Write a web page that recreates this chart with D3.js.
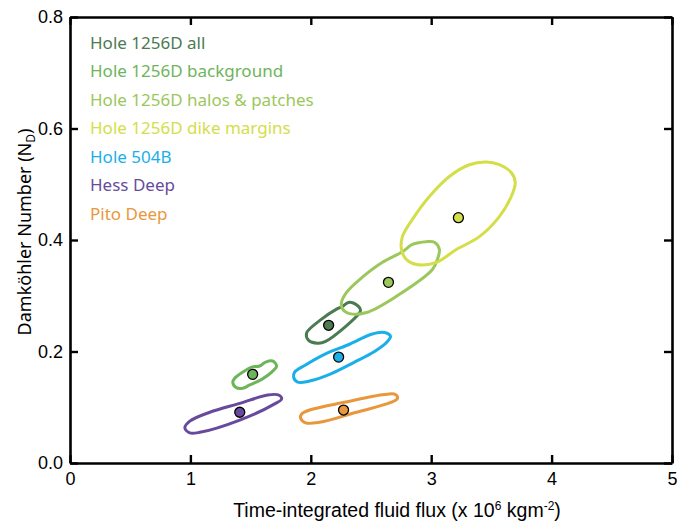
<!DOCTYPE html>
<html>
<head>
<meta charset="utf-8">
<script src="https://cdn.jsdelivr.net/npm/d3@7"></script>
<style>
  body { margin: 0; background: #fff; }
  .tick text { font-family: "Liberation Sans", Arial, sans-serif; font-size: 18px; fill: #000; }
</style>
</head>
<body>
<div id="chart"></div>
<script>
var chart_width  = 689;
var chart_height = 521;
var margin = {left: 70, right: 17, top: 17, bottom: 58};

// legend / series names
var names = [
    'Hole 1256D all',
    'Hole 1256D background',
    'Hole 1256D halos & patches',
    'Hole 1256D dike margins',
    'Hole 504B',
    'Hess Deep',
    'Pito Deep'
];

// mean values [flux, Nd]
var means = [
    [2.148, 0.247],
    [1.517, 0.159],
    [2.645, 0.324],
    [3.226, 0.440],
    [2.231, 0.190],
    [1.410, 0.091],
    [2.272, 0.095]
];

// contour outlines, [flux, Nd]
var allContour = [
    [1.965, 0.233], [1.982, 0.220], [2.056, 0.215], [2.123, 0.218], [2.388, 0.265],
    [2.413, 0.274], [2.371, 0.285], [2.313, 0.288], [2.264, 0.281], [2.214, 0.276],
    [2.090, 0.258]
];
var backgroundContour = [
    [1.352, 0.145], [1.376, 0.136], [1.434, 0.134], [1.493, 0.140], [1.592, 0.150],
    [1.675, 0.163], [1.716, 0.174], [1.683, 0.183], [1.625, 0.181], [1.575, 0.174],
    [1.509, 0.172], [1.434, 0.163], [1.368, 0.152]
];
var halosContour = [
    [2.264, 0.276], [2.322, 0.268], [2.463, 0.270], [2.711, 0.299], [3.010, 0.347],
    [3.051, 0.365], [3.068, 0.383], [3.027, 0.396], [2.960, 0.397], [2.844, 0.392],
    [2.761, 0.379], [2.595, 0.360], [2.405, 0.329], [2.297, 0.306], [2.255, 0.288]
];
var dikeContour = [
    [2.753, 0.383], [2.794, 0.365], [2.877, 0.356], [3.043, 0.360], [3.209, 0.383],
    [3.400, 0.406], [3.566, 0.442], [3.665, 0.478], [3.698, 0.503], [3.665, 0.521],
    [3.566, 0.535], [3.458, 0.540], [3.317, 0.535], [3.151, 0.514], [2.985, 0.478],
    [2.844, 0.437], [2.761, 0.406]
];
var hole504Contour = [
    [1.857, 0.154], [1.891, 0.145], [1.990, 0.147], [2.156, 0.159], [2.363, 0.181],
    [2.529, 0.200], [2.637, 0.218], [2.662, 0.227], [2.612, 0.234], [2.504, 0.231],
    [2.322, 0.213], [2.114, 0.195], [1.949, 0.175], [1.866, 0.163]
];
var hessContour = [
    [0.954, 0.063], [0.995, 0.054], [1.078, 0.055], [1.410, 0.077], [1.700, 0.106],
    [1.758, 0.115], [1.733, 0.122], [1.642, 0.122], [1.410, 0.107], [1.161, 0.091],
    [0.995, 0.075]
];
var pitoContour = [
    [1.915, 0.081], [1.957, 0.072], [2.073, 0.073], [2.380, 0.091], [2.670, 0.109],
    [2.720, 0.116], [2.703, 0.123], [2.612, 0.123], [2.280, 0.109], [1.990, 0.095],
    [1.924, 0.088]
];

var x_ticks = [0, 1, 2, 3, 4, 5];
var y_ticks = [0, 0.2, 0.4, 0.6, 0.8];

var contours = [allContour, backgroundContour, halosContour, dikeContour,
                hole504Contour, hessContour, pitoContour];
var colors = ['#4b7b50', '#6db55a', '#9cc75b', '#d4de48', '#1aafe8', '#684a9c', '#e8973c'];

var svg = d3.select('#chart')
    .append('svg')
    .attr('width', chart_width)
    .attr('height', chart_height);

var x_scale = d3.scaleLinear()
    .domain([0, 5])
    .range([margin.left, chart_width - margin.right]);

var y_scale = d3.scaleLinear()
    .domain([0, 0.8])
    .range([chart_height - margin.bottom, margin.top]);

// contours
var line = d3.line()
    .x(d => x_scale(d[0]))
    .y(d => y_scale(d[1]))
    .curve(d3.curveCatmullRomClosed.alpha(0.5));

svg.append('g').selectAll('path')
    .data(contours)
    .enter()
    .append('path')
    .attr('d', line)
    .attr('fill', 'none')
    .attr('stroke', (d, i) => colors[i])
    .attr('stroke-width', 3)
    .attr('stroke-linejoin', 'round');

// means
svg.append('g').selectAll('circle')
    .data(means)
    .enter()
    .append('circle')
    .attr('cx', d => x_scale(d[0]))
    .attr('cy', d => y_scale(d[1]))
    .attr('r', 5)
    .attr('fill', (d, i) => colors[i])
    .attr('stroke', '#000')
    .attr('stroke-width', 1.3);

// axes, ticks pointing inwards
var x_axis = d3.axisBottom(x_scale).tickValues(x_ticks).tickSize(-8).tickSizeOuter(0).tickPadding(9)
    .tickFormat(d3.format('d'));
var y_axis = d3.axisLeft(y_scale).tickValues(y_ticks).tickSize(-8).tickSizeOuter(0).tickPadding(7)
    .tickFormat(d3.format('.1f'));
var top_axis = d3.axisTop(x_scale).tickValues(x_ticks).tickSize(-8).tickSizeOuter(0).tickFormat('');
var right_axis = d3.axisRight(y_scale).tickValues(y_ticks).tickSize(-8).tickSizeOuter(0).tickFormat('');

svg.append('g')
    .attr('transform', `translate(0, ${chart_height - margin.bottom})`)
    .call(x_axis);
svg.append('g')
    .attr('transform', `translate(${margin.left}, 0)`)
    .call(y_axis);
svg.append('g')
    .attr('transform', `translate(0, ${margin.top})`)
    .call(top_axis);
svg.append('g')
    .attr('transform', `translate(${chart_width - margin.right}, 0)`)
    .call(right_axis);

svg.selectAll('.domain').attr('stroke', '#000').attr('stroke-width', 2.6);
svg.selectAll('.tick line').attr('stroke', '#000').attr('stroke-width', 2.4);

// legend
svg.append('g').selectAll('text')
    .data(names)
    .enter()
    .append('text')
    .attr('x', 90)
    .attr('y', (d, i) => 48.5 + i * 28.5)
    .attr('fill', (d, i) => colors[i])
    .style('font-family', '"Noto Sans", "Open Sans", sans-serif')
    .style('font-size', '17px')
    .text(d => d);

// axis titles
var xt = svg.append('text')
    .attr('x', 397)
    .attr('y', 517)
    .attr('text-anchor', 'middle')
    .style('font-family', '"Liberation Sans", Arial, sans-serif')
    .style('font-size', '19.5px');
xt.append('tspan').text('Time-integrated fluid flux (x 10');
xt.append('tspan').attr('dy', -7).style('font-size', '12px').text('6');
xt.append('tspan').attr('dy', 7).text(' kgm');
xt.append('tspan').attr('dy', -7).style('font-size', '12px').text('-2');
xt.append('tspan').attr('dy', 7).text(')');

var yt = svg.append('text')
    .attr('transform', 'translate(31, 232) rotate(-90)')
    .attr('text-anchor', 'middle')
    .style('font-family', '"Noto Sans", "Open Sans", sans-serif')
    .style('font-size', '18px');
yt.append('tspan').text('Damköhler Number (N');
yt.append('tspan').attr('dy', 4).style('font-size', '12px').text('D');
yt.append('tspan').attr('dy', -4).text(')');
</script>
</body>
</html>
